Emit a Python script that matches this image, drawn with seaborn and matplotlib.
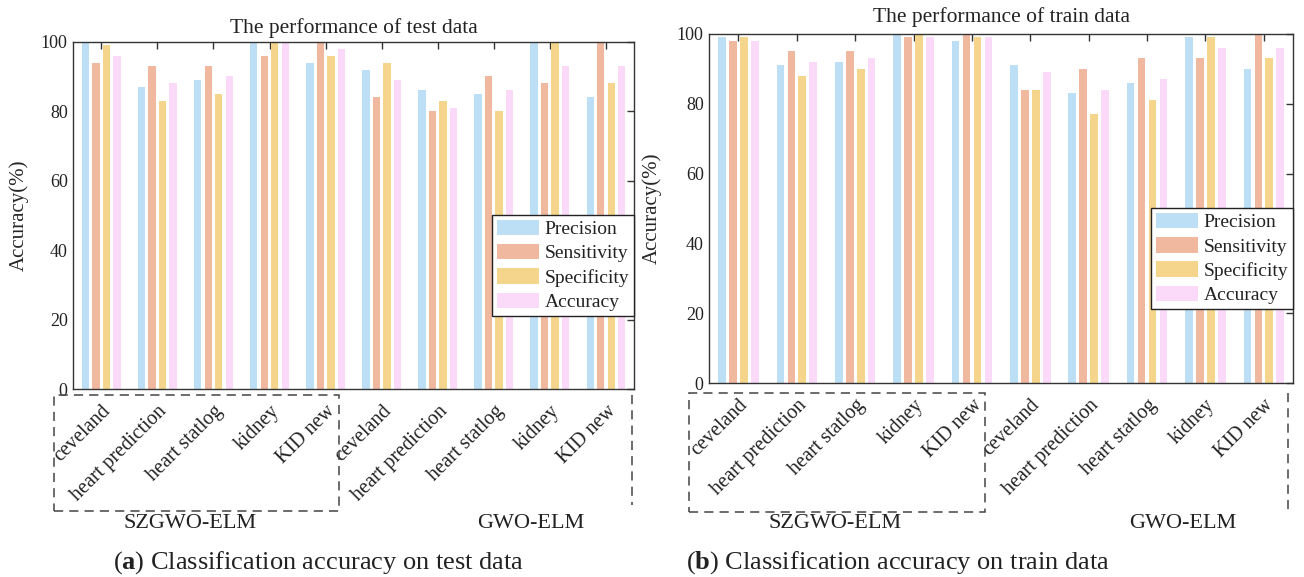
import numpy as np
import pandas as pd
import matplotlib
matplotlib.use("Agg")
import matplotlib.pyplot as plt
import seaborn as sns
from matplotlib.patches import Rectangle
from matplotlib.lines import Line2D

# ---------------- data ----------------
datasets = ["ceveland", "heart prediction", "heart statlog", "kidney", "KID new"]
models = ["SZGWO-ELM", "GWO-ELM"]
metrics = ["Precision", "Sensitivity", "Specificity", "Accuracy"]
yticks = [0, 20, 40, 60, 80, 100]

test_precision = [100, 87, 89, 100, 94, 92, 86, 85, 100, 84]
test_sensitivity = [94, 93, 93, 96, 100, 84, 80, 90, 88, 100]
test_specificity = [99, 83, 85, 100, 96, 94, 83, 80, 100, 88]
test_accuracy = [96, 88, 90, 100, 98, 89, 81, 86, 93, 93]

train_precision = [99, 91, 92, 100, 98, 91, 83, 86, 99, 90]
train_sensitivity = [98, 95, 95, 99, 100, 84, 90, 93, 93, 100]
train_specificity = [99, 88, 90, 100, 99, 84, 77, 81, 99, 93]
train_accuracy = [98, 92, 93, 99, 99, 89, 84, 87, 96, 96]

titles = ["The performance of test data", "The performance of train data"]
captions = [r"($\mathbf{a}$) Classification accuracy on test data",
            r"($\mathbf{b}$) Classification accuracy on train data"]

colors = ["#BDDFF5", "#F1B8A0", "#F5D58B", "#FADAF8"]

# ---------------- style ----------------
sns.set_style("white")
plt.rcParams["font.family"] = ["Liberation Serif", "DejaVu Serif"]
plt.rcParams["mathtext.fontset"] = "custom"
plt.rcParams["mathtext.rm"] = "Liberation Serif"
plt.rcParams["mathtext.bf"] = "Liberation Serif:bold"
plt.rcParams["axes.edgecolor"] = "#333333"
plt.rcParams["axes.linewidth"] = 1.0
plt.rcParams["text.color"] = "#222222"

W, H = 1304, 577
fig = plt.figure(figsize=(W / 100, H / 100), dpi=100)


def px_axes(x0, y0, x1, y1):
    return fig.add_axes([x0 / W, 1 - y1 / H, (x1 - x0) / W, (y1 - y0) / H])


def make_df(series):
    keys, mets, vals = [], [], []
    for i in range(len(datasets) * len(models)):
        for m, arr in zip(metrics, series):
            keys.append(i)
            mets.append(m)
            vals.append(arr[i])
    return pd.DataFrame({"key": keys, "metric": mets, "value": vals})


panels = [
    dict(series=[test_precision, test_sensitivity, test_specificity, test_accuracy],
         box=(73.3, 41.7, 634, 389.3), title_pad=6.5, ylab_x=-0.079),
    dict(series=[train_precision, train_sensitivity, train_specificity, train_accuracy],
         box=(709.3, 34, 1293, 383.3), title_pad=8.5, ylab_x=-0.082),
]

labels = datasets * len(models)

for k, p in enumerate(panels):
    ax = px_axes(*p["box"])
    df = make_df(p["series"])
    sns.barplot(data=df, x="key", y="value", hue="metric", hue_order=metrics,
                order=list(range(10)), palette=colors, saturation=1,
                width=0.75, gap=0.3, errorbar=None, ax=ax, linewidth=0)
    ax.set_xlim(-0.5, 9.5)
    ax.set_ylim(0, 100)
    ax.set_yticks(yticks)
    ax.set_yticklabels([str(v) for v in yticks], fontsize=13)
    ax.set_xticks(range(10))
    ax.set_xticklabels(labels, rotation=45, ha="right", va="top",
                       rotation_mode="anchor", fontsize=14.5)
    ax.tick_params(direction="in", top=True, right=True, length=5, width=1,
                   color="#333333", labelcolor="#222222")
    ax.tick_params(axis="x", pad=9)
    ax.tick_params(axis="y", pad=4)
    ax.set_xlabel("")
    ax.set_ylabel("Accuracy(%)", fontsize=15)
    ax.yaxis.set_label_coords(p["ylab_x"], 0.5)
    ax.set_title(titles[k], fontsize=15.5, pad=p["title_pad"])
    for s in ax.spines.values():
        s.set_visible(True)
    ax.legend(loc="upper right", bbox_to_anchor=(1.0, 0.502), frameon=True,
              fancybox=False, edgecolor="#222222", framealpha=1, fontsize=14,
              handlelength=2.15, handleheight=0.85, labelspacing=0.3,
              borderpad=0.25, handletextpad=0.3, borderaxespad=0)
    ax.get_legend().get_frame().set_linewidth(1.0)

# ---------------- dashed group boxes ----------------
def fig_rect(x0, y0, x1, y1):
    r = Rectangle((x0 / W, 1 - y1 / H), (x1 - x0) / W, (y1 - y0) / H,
                  transform=fig.transFigure, fill=False, edgecolor="#444444",
                  linewidth=1.1, linestyle=(0, (6, 4)))
    fig.add_artist(r)


def fig_vline(x, y0, y1):
    fig.add_artist(Line2D([x / W, x / W], [1 - y0 / H, 1 - y1 / H],
                          transform=fig.transFigure, color="#444444",
                          linewidth=1.1, linestyle=(0, (6, 4))))


fig_rect(54, 395, 339, 510.5)
fig_vline(632, 395, 505)
fig_rect(689, 393, 985, 512)
fig_vline(1288, 393, 510)

# ---------------- group labels & captions ----------------
fig.text(190 / W, 1 - 523 / H, models[0], ha="center", va="center", fontsize=16)
fig.text(531 / W, 1 - 523 / H, models[1], ha="center", va="center", fontsize=16)
fig.text(835 / W, 1 - 523 / H, models[0], ha="center", va="center", fontsize=16)
fig.text(1183 / W, 1 - 523 / H, models[1], ha="center", va="center", fontsize=16)

fig.text(318 / W, 1 - 563 / H, captions[0], ha="center", va="center", fontsize=19)
fig.text(898 / W, 1 - 563 / H, captions[1], ha="center", va="center", fontsize=19)

fig.savefig("out.png", dpi=100)
